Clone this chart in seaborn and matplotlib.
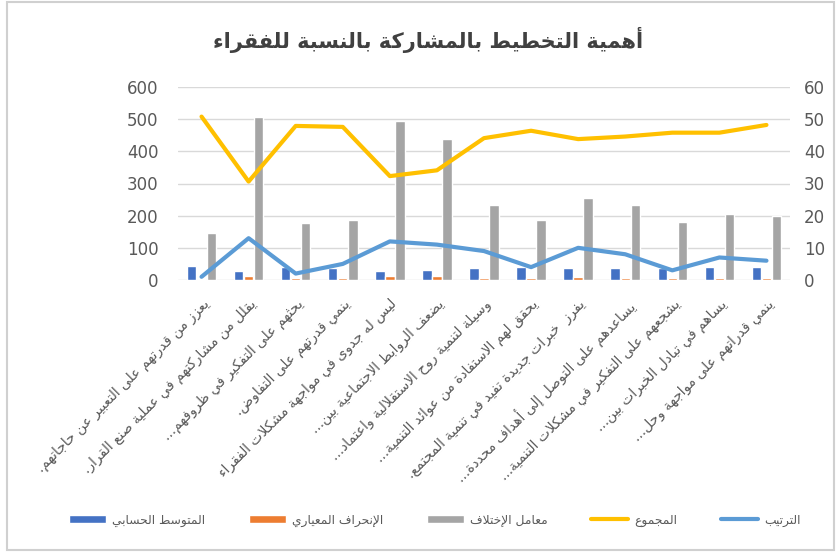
import matplotlib
matplotlib.use("Agg")
import matplotlib.pyplot as plt
import seaborn as sns
import numpy as np
import pandas as pd
from matplotlib.patches import Rectangle

# ---------------- data ----------------
categories = [
    "يعزز من قدرتهم على التعبير عن حاجاتهم.",
    "يقلل من مشاركتهم في عملية صنع القرار.",
    "يحثهم على التفكير في ظروفهم...",
    "ينمي قدرتهم على التفاوض.",
    "ليس له جدوى في مواجهة مشكلات الفقراء",
    "يضعف الروابط الاجتماعية بين...",
    "وسيلة لتنمية روح الاستقلالية واعتماد...",
    "يحقق لهم الاستفادة من عوائد التنمية...",
    "يفرز  خبرات جديدة تفيد في تنمية المجتمع.",
    "يساعدهم على التوصل إلى أهداف محددة...",
    "يشجعهم على التفكير في مشكلات التنمية...",
    "يساهم في تبادل الخبرات بين...",
    "ينمي قدراتهم على مواجهة وحل...",
]
mean_vals = [44, 27, 40, 36, 27, 30, 36, 40, 36, 36, 36, 40, 40]
std_vals = [3, 12, 6, 6, 12, 12, 6, 6, 9, 6, 6, 6, 6]
cv_vals = [147, 507, 178, 188, 494, 439, 233, 188, 254, 233, 181, 205, 200]
total_vals = [50.8, 30.6, 47.9, 47.6, 32.3, 34.1, 44.1, 46.4, 43.8, 44.6, 45.8, 45.8, 48.2]
rank_vals = [1, 13, 2, 5, 12, 11, 9, 4, 10, 8, 3, 7, 6]
series_names = ["المتوسط الحسابي", "الإنحراف المعياري", "معامل الإختلاف"]
line_names = ["المجموع", "الترتيب"]
title_text = "أهمية التخطيط بالمشاركة بالنسبة للفقراء"
left_ticks = [0, 100, 200, 300, 400, 500, 600]
right_ticks = [0, 10, 20, 30, 40, 50, 60]

# ---------------- Arabic shaping (presentation forms + RTL) ----------------
_table = [
    ("ء", 0xFE80, 1), ("آ", 0xFE81, 2), ("أ", 0xFE83, 2), ("ؤ", 0xFE85, 2),
    ("إ", 0xFE87, 2), ("ئ", 0xFE89, 4), ("ا", 0xFE8D, 2), ("ب", 0xFE8F, 4),
    ("ة", 0xFE93, 2), ("ت", 0xFE95, 4), ("ث", 0xFE99, 4), ("ج", 0xFE9D, 4),
    ("ح", 0xFEA1, 4), ("خ", 0xFEA5, 4), ("د", 0xFEA9, 2), ("ذ", 0xFEAB, 2),
    ("ر", 0xFEAD, 2), ("ز", 0xFEAF, 2), ("س", 0xFEB1, 4), ("ش", 0xFEB5, 4),
    ("ص", 0xFEB9, 4), ("ض", 0xFEBD, 4), ("ط", 0xFEC1, 4), ("ظ", 0xFEC5, 4),
    ("ع", 0xFEC9, 4), ("غ", 0xFECD, 4), ("ف", 0xFED1, 4), ("ق", 0xFED5, 4),
    ("ك", 0xFED9, 4), ("ل", 0xFEDD, 4), ("م", 0xFEE1, 4), ("ن", 0xFEE5, 4),
    ("ه", 0xFEE9, 4), ("و", 0xFEED, 2), ("ى", 0xFEEF, 2), ("ي", 0xFEF1, 4),
]
FORMS = {c: (start, n) for c, start, n in _table}
LAMALEF = {"آ": 0xFEF5, "أ": 0xFEF7, "إ": 0xFEF9, "ا": 0xFEFB}


def ar(s):
    toks = []
    i = 0
    while i < len(s):
        c = s[i]
        if c == "ل" and i + 1 < len(s) and s[i + 1] in LAMALEF:
            toks.append(("LA", LAMALEF[s[i + 1]], 2))
            i += 2
            continue
        if c in FORMS:
            st, n = FORMS[c]
            toks.append(("AR", st, n))
        else:
            toks.append(("X", c, 0))
        i += 1
    out = []
    for k, (kind, val, n) in enumerate(toks):
        if kind == "X":
            out.append(val)
            continue
        prev_ok = k > 0 and toks[k - 1][0] == "AR" and toks[k - 1][2] == 4 and n >= 2
        next_ok = (n == 4 and kind == "AR" and k + 1 < len(toks)
                   and toks[k + 1][0] in ("AR", "LA") and toks[k + 1][2] >= 2)
        if n == 1:
            idx = 0
        elif prev_ok and next_ok:
            idx = 3
        elif prev_ok:
            idx = 1
        elif next_ok:
            idx = 2
        else:
            idx = 0
        out.append(chr(val + idx))
    return "".join(out[::-1])


# ---------------- plot ----------------
sns.set_theme(style="white")
plt.rcParams["font.family"] = ["DejaVu Sans"]

GRAY_TXT = "#595959"
colors_bar = ["#4472C4", "#ED7D31", "#A5A5A5"]
c_total = "#FFC000"
c_rank = "#5B9BD5"

fig = plt.figure(figsize=(8.36, 5.52), dpi=100)
ax = fig.add_axes([178 / 836, 1 - 280 / 552, (790 - 178) / 836, (280 - 87) / 552])

n = len(categories)
shaped = [ar(c) for c in categories]
df = pd.DataFrame({
    "cat": shaped * 3,
    "series": sum([[ar(s)] * n for s in series_names], []),
    "value": mean_vals + std_vals + cv_vals,
})
sns.barplot(data=df, x="cat", y="value", hue="series", order=shaped,
            hue_order=[ar(s) for s in series_names], palette=colors_bar,
            width=0.64, gap=0.06, ax=ax, legend=True, saturation=1)
bar_handles, bar_labels = ax.get_legend_handles_labels()
ax.get_legend().remove()

ax.set_ylim(0, 600)
ax.set_xlim(-0.5, n - 0.5)
ax.set_yticks(left_ticks)
ax.set_xlabel("")
ax.set_ylabel("")
ax.yaxis.grid(True, color="#D9D9D9", lw=1)
ax.set_axisbelow(True)
for sp in ax.spines.values():
    sp.set_visible(False)
ax.tick_params(axis="y", labelsize=12, colors=GRAY_TXT, length=0, pad=14)
ax.tick_params(axis="x", length=0, pad=12)
ax.set_xticks(range(n))
ax.set_xticklabels(shaped, rotation=45, ha="right", va="top",
                   rotation_mode="anchor", fontsize=10, color=GRAY_TXT)

ax2 = ax.twinx()
xs = np.arange(n)
sns.lineplot(x=xs, y=total_vals, ax=ax2, color=c_total, lw=3, label=ar(line_names[0]))
sns.lineplot(x=xs, y=rank_vals, ax=ax2, color=c_rank, lw=3, label=ar(line_names[1]))
line_handles, line_labels = ax2.get_legend_handles_labels()
ax2.get_legend().remove()
ax2.set_ylim(0, 60)
ax2.set_yticks(right_ticks)
ax2.set_xlim(-0.5, n - 0.5)
for sp in ax2.spines.values():
    sp.set_visible(False)
ax2.tick_params(axis="y", labelsize=12, colors=GRAY_TXT, length=0, pad=10)
ax2.grid(False)

fig.text(0.512, 1 - 40 / 552, ar(title_text), ha="center", va="center",
         fontsize=15, fontweight="bold", color="#404040")

leg = fig.legend(bar_handles + line_handles, bar_labels + line_labels,
                 loc="center", bbox_to_anchor=(0.52, 1 - 520 / 552), ncol=5,
                 frameon=False, fontsize=8.8, handlelength=3.0, columnspacing=3.6,
                 handletextpad=0.5)
for t in leg.get_texts():
    t.set_color(GRAY_TXT)

fig.patches.append(Rectangle((0.008, 0.004), 0.99, 0.992, transform=fig.transFigure,
                             fill=False, edgecolor="#D0D0D0", lw=1.5))

fig.savefig("out.png", dpi=100)
